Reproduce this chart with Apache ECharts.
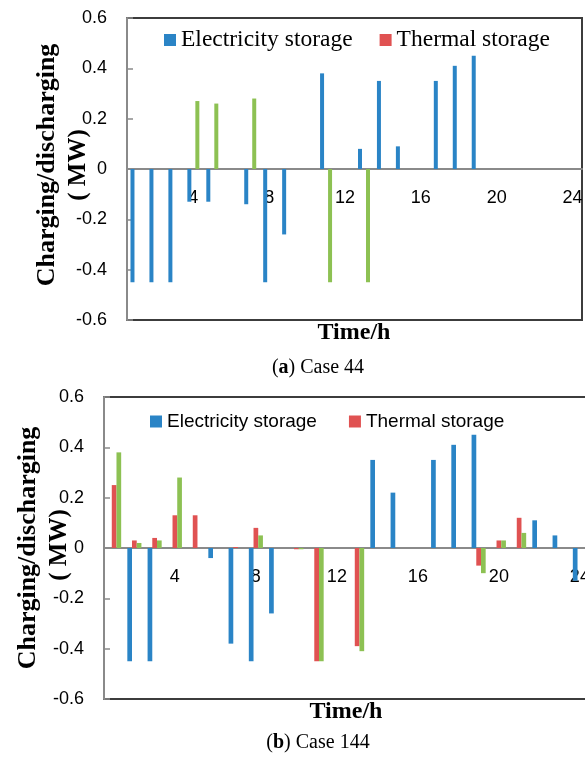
<!DOCTYPE html>
<html>
<head>
<meta charset="utf-8">
<script src="https://cdn.jsdelivr.net/npm/echarts@6/dist/echarts.min.js"></script>
<style>
html,body{margin:0;padding:0;background:#fff;}
#c{width:585px;height:758px;}
</style>
</head>
<body>
<div id="c"></div>
<script>
// ---- data ----
var hours = ['1','2','3','4','5','6','7','8','9','10','11','12','13','14','15','16','17','18','19','20','21','22','23','24'];
var yTicks = [-0.6,-0.4,-0.2,0,0.2,0.4,0.6];
var legendNames = ['Electricity storage','Thermal storage'];
var thirdName = 'Cold storage';

// (a) Case 44
var elec44    = [-0.45,-0.45,-0.45,-0.13,-0.13,0,-0.14,-0.45,-0.26,0,0.38,0,0.08,0.35,0.09,0,0.35,0.41,0.45,0,0,0,0,0];
var thermal44 = [0,0,0,0,0,0,0,0,0,0,0,0,0,0,0,0,0,0,0,0,0,0,0,0];
var third44   = [0,0,0,0.27,0.26,0,0.28,0,0,0,-0.45,0,-0.45,0,0,0,0,0,0,0,0,0,0,0];

// (b) Case 144
var elec144    = [0,-0.45,-0.45,0,0,-0.04,-0.38,-0.45,-0.26,0,0,0,0,0.35,0.22,0,0.35,0.41,0.45,0,0,0.11,0.05,-0.13];
var thermal144 = [0.25,0.03,0.04,0.13,0.13,0,0.004,0.08,0,-0.005,-0.45,0,-0.39,0,0,0,0,0,-0.07,0.03,0.12,0,0,0];
var third144   = [0.38,0.02,0.03,0.28,0,0,0,0.05,0,-0.005,-0.45,0,-0.41,0,0,0,0,0,-0.10,0.03,0.06,0,0,0];

// ---- styles / layout ----
var BLUE = '#2a84c6', RED = '#e05252', GREEN = '#8dc153';
var SANS = '"Liberation Sans", Arial, sans-serif';
var SERIF = '"Liberation Serif", "Times New Roman", serif';
var GRID_H = 302;
var yMin = yTicks[0], yMax = yTicks[yTicks.length - 1];
// distance from the bottom of the plot to the zero line (labels sit under the zero line)
var zeroFromBottom = GRID_H * (0 - yMin) / (yMax - yMin);

function xAxisCfg(gi) {
  return {
    type: 'category', gridIndex: gi, data: hours,
    axisLine: { onZero: true, lineStyle: { color: '#8a8a8a', width: 2 } },
    axisTick: { show: false },
    axisLabel: {
      interval: function (i) { return (i + 1) % 4 === 0; },
      color: '#000', fontFamily: SANS, fontSize: 18, margin: 20 - zeroFromBottom
    },
    splitLine: { show: false }
  };
}
function yAxisCfg(gi) {
  return {
    type: 'value', gridIndex: gi,
    min: yMin, max: yMax, interval: 0.2,
    axisLine: { show: true, lineStyle: { color: '#8a8a8a', width: 2 } },
    axisTick: { show: true, inside: true, length: 6, lineStyle: { color: '#8a8a8a', width: 1.5 } },
    axisLabel: {
      color: '#000', fontFamily: SANS, fontSize: 18, margin: 20,
      formatter: function (v) { return String(+v.toFixed(1)); }
    },
    splitLine: { show: false }
  };
}
function bar(name, data, color, gi, w) {
  return {
    type: 'bar', name: name, data: data, xAxisIndex: gi, yAxisIndex: gi,
    barWidth: w, barGap: '0%', itemStyle: { color: color }, animation: false
  };
}

var chart = echarts.init(document.getElementById('c'), null, { renderer: 'canvas' });
chart.setOption({
  animation: false,
  backgroundColor: '#fff',
  grid: [
    { left: 127, top: 18, width: 455, height: GRID_H, show: true, borderColor: '#3c3c3c', borderWidth: 2, backgroundColor: 'transparent', outerBoundsMode: 'none', containLabel: false },
    { left: 104, top: 397, width: 486, height: GRID_H, show: true, borderColor: '#3c3c3c', borderWidth: 2, backgroundColor: 'transparent', outerBoundsMode: 'none', containLabel: false }
  ],
  xAxis: [xAxisCfg(0), xAxisCfg(1)],
  yAxis: [yAxisCfg(0), yAxisCfg(1)],
  legend: [
    { data: legendNames, left: 164, top: 28, padding: 0, itemGap: 27, itemWidth: 12, itemHeight: 12, icon: 'rect',
      textStyle: { fontFamily: SERIF, fontSize: 23.5, color: '#000' } },
    { data: legendNames, left: 150, top: 412, padding: 0, itemGap: 32, itemWidth: 12, itemHeight: 12, icon: 'rect',
      textStyle: { fontFamily: SANS, fontSize: 19, color: '#000' } }
  ],
  series: [
    bar(legendNames[0], elec44, BLUE, 0, 4),
    bar(legendNames[1], thermal44, RED, 0, 4),
    bar(thirdName, third44, GREEN, 0, 4),
    bar(legendNames[0], elec144, BLUE, 1, 4.7),
    bar(legendNames[1], thermal144, RED, 1, 4.7),
    bar(thirdName, third144, GREEN, 1, 4.7)
  ],
  graphic: [
    { type: 'text', x: 47, y: 165, rotation: Math.PI / 2, style: { text: 'Charging/discharging', font: 'bold 26px ' + SERIF, fill: '#000', align: 'center', verticalAlign: 'middle' } },
    { type: 'text', x: 79, y: 165, rotation: Math.PI / 2, style: { text: '( MW)', font: 'bold 25px ' + SERIF, fill: '#000', align: 'center', verticalAlign: 'middle' } },
    { type: 'text', x: 354, y: 333, style: { text: 'Time/h', font: 'bold 24px ' + SERIF, fill: '#000', align: 'center', verticalAlign: 'middle' } },
    { type: 'text', x: 318, y: 368, style: { text: '({b|a}) Case 44', font: '20px ' + SERIF, fill: '#000', align: 'center', verticalAlign: 'middle',
      rich: { b: { font: 'bold 20px ' + SERIF, fill: '#000' } } } },
    { type: 'text', x: 28, y: 548, rotation: Math.PI / 2, style: { text: 'Charging/discharging', font: 'bold 26px ' + SERIF, fill: '#000', align: 'center', verticalAlign: 'middle' } },
    { type: 'text', x: 60, y: 545, rotation: Math.PI / 2, style: { text: '( MW)', font: 'bold 25px ' + SERIF, fill: '#000', align: 'center', verticalAlign: 'middle' } },
    { type: 'text', x: 346, y: 712, style: { text: 'Time/h', font: 'bold 24px ' + SERIF, fill: '#000', align: 'center', verticalAlign: 'middle' } },
    { type: 'text', x: 318, y: 743, style: { text: '({b|b}) Case 144', font: '20px ' + SERIF, fill: '#000', align: 'center', verticalAlign: 'middle',
      rich: { b: { font: 'bold 20px ' + SERIF, fill: '#000' } } } }
  ]
});
</script>
</body>
</html>
